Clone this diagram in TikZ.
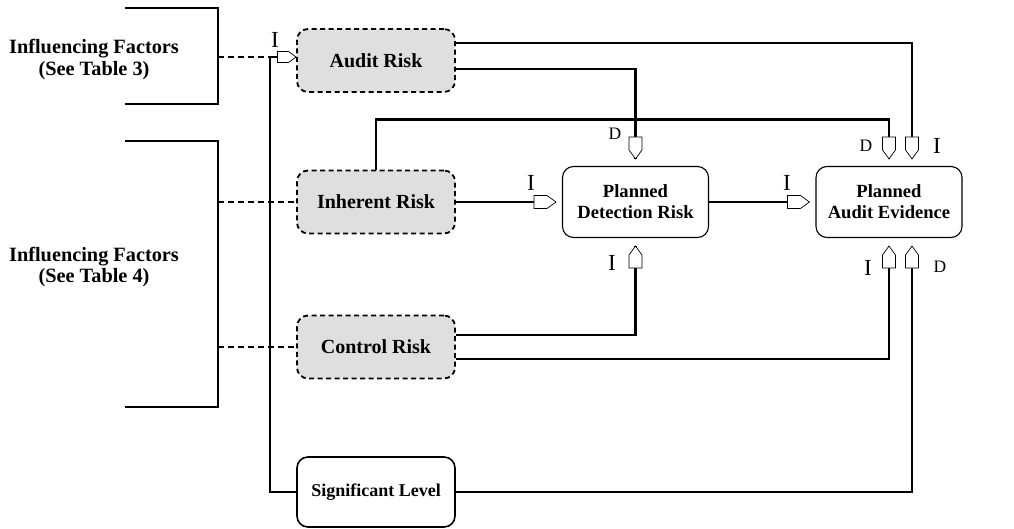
\documentclass[tikz,border=0pt]{standalone}
\usepackage{fontspec}
\setmainfont{Liberation Serif}
\begin{document}
\begin{tikzpicture}[x=1pt,y=-1pt,
  riskbox/.style={draw, line width=1.8pt, dash pattern=on 5pt off 3.5pt, fill=gray!25, rounded corners=11pt, minimum width=158pt, minimum height=63pt, inner sep=0pt, font=\fontsize{20}{22}\selectfont\bfseries},
  planbox/.style={draw, line width=1.1pt, rounded corners=11pt, minimum width=146pt, minimum height=71pt, inner sep=0pt, align=center, font=\fontsize{18.6}{21}\selectfont\bfseries},
  sigbox/.style={draw, line width=1.6pt, rounded corners=11pt, minimum width=158pt, minimum height=70pt, inner sep=0pt, font=\fontsize{18}{20}\selectfont\bfseries},
  factor/.style={align=center, inner sep=0pt, font=\fontsize{20.3}{21.5}\selectfont\bfseries},
  conn/.style={line width=2.4pt},
  dline/.style={line width=2.4pt, dash pattern=on 6pt off 4pt},
  bracket/.style={line width=2.4pt},
  lblI/.style={inner sep=0pt, font=\fontsize{23}{23}\selectfont},
  lblD/.style={inner sep=0pt, font=\fontsize{17.5}{17.5}\selectfont},
  hollowtip/.pic={\draw[line width=0.7pt, fill=white] (-22,-6.5) -- (-9,-6.5) -- (0,0) -- (-9,6.5) -- (-22,6.5) -- cycle;}
]
\useasboundingbox (0,0) rectangle (1014,529);

% influencing factor brackets
\draw[bracket] (125,8) -| (218,104) -- (125,104);
\draw[bracket] (125,141) -| (218,407) -- (125,407);
\node[factor] (f3) at (94,59.5) {Influencing Factors\\(See Table 3)};
\node[factor] (f4) at (94,267) {Influencing Factors\\(See Table 4)};
\coordinate (b1) at (218,57);
\coordinate (b2) at (218,202);
\coordinate (b3) at (218,347);

% nodes
\node[riskbox] (AR) at (376,60.5) {Audit Risk};
\node[riskbox] (IR) at (376,202) {Inherent Risk};
\node[riskbox] (CR) at (376,347) {Control Risk};
\node[sigbox] (SL) at (376,492) {Significant Level};
\node[planbox] (PDR) at (635.5,202) {Planned\\Detection Risk};
\node[planbox] (PAE) at (889,202) {Planned\\Audit Evidence};

% dashed links from factors
\coordinate (J) at (270,57);
\draw[dline] (b1) -- (J);
\draw[dline] (b2) -- (IR.west);
\draw[dline] (b3) -- (CR.west);

% port coordinates
\coordinate (pAR) at ([yshift=3.5pt]AR.west);
\coordinate (pPDRn) at ([yshift=7pt]PDR.north);
\coordinate (pPDRw) at ([xshift=-6pt]PDR.west);
\coordinate (pPDRs) at ([yshift=-8pt]PDR.south);
\coordinate (pPAEnD) at ([yshift=7pt]PAE.north);
\coordinate (pPAEnI) at ([xshift=23pt,yshift=7pt]PAE.north);
\coordinate (pPAEw) at ([xshift=-6pt]PAE.west);
\coordinate (pPAEsI) at ([yshift=-8pt]PAE.south);
\coordinate (pPAEsD) at ([xshift=23pt,yshift=-8pt]PAE.south);

% connectors
\draw[conn] (SL.west) -| (J) -- (pAR);
\draw[conn] ([yshift=-8.5pt]AR.east) -| (pPDRn);
\draw[conn] ([yshift=17.5pt]AR.east) -| (pPAEnI);
\draw[conn] (IR.north) -- ++(0,-50) -| (pPAEnD);
\draw[conn] (IR.east) -- (pPDRw);
\draw[conn] (PDR.east) -- (pPAEw);
\draw[conn] ([yshift=12pt]CR.east) -| (pPDRs);
\draw[conn] ([yshift=-12pt]CR.east) -| (pPAEsI);
\draw[conn] (SL.east) -| (pPAEsD);

% hollow port tips
\pic[scale=0.85] at (pAR) {hollowtip};
\pic at (pPDRw) {hollowtip};
\pic at (pPAEw) {hollowtip};
\pic[rotate=-90] at (pPDRn) {hollowtip};
\pic[rotate=-90] at (pPAEnD) {hollowtip};
\pic[rotate=-90] at (pPAEnI) {hollowtip};
\pic[rotate=90] at (pPDRs) {hollowtip};
\pic[rotate=90] at (pPAEsI) {hollowtip};
\pic[rotate=90] at (pPAEsD) {hollowtip};

% labels
\node[lblI] (l1) at (275,40) {I};
\node[lblD] (l2) at (615,134) {D};
\node[lblI] (l3) at (531,183) {I};
\node[lblI] (l4) at (787,183) {I};
\node[lblI] (l5) at (612,263) {I};
\node[lblD] (l6) at (866,146) {D};
\node[lblI] (l7) at (937,146) {I};
\node[lblI] (l8) at (868,268) {I};
\node[lblD] (l9) at (940,267) {D};
\end{tikzpicture}
\end{document}
